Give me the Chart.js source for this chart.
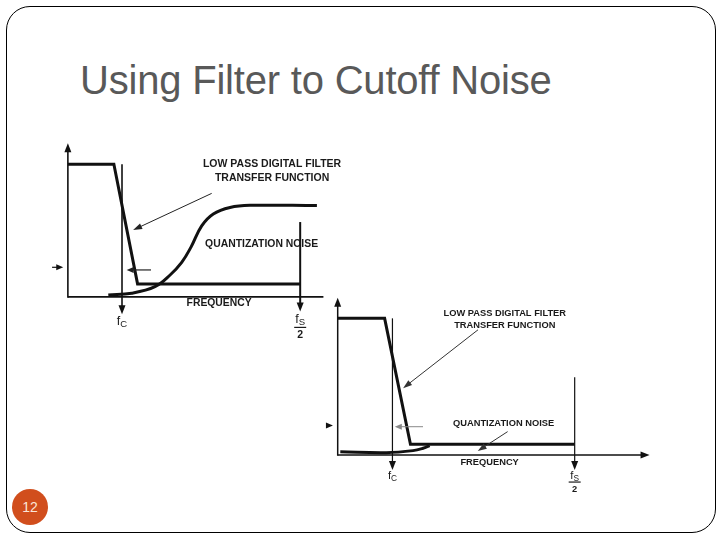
<!DOCTYPE html>
<html>
<head>
<meta charset="utf-8">
<script src="https://cdn.jsdelivr.net/npm/chart.js@4/dist/chart.umd.min.js"></script>
<style>
html,body{margin:0;padding:0;background:#fff;}
#slide{position:relative;width:720px;height:540px;overflow:hidden;background:#fff;}
#frame{position:absolute;left:6px;top:6px;width:710px;height:527px;border:1px solid #000;border-radius:24px;box-sizing:border-box;}
#title{position:absolute;left:80px;top:60px;font:40px "Liberation Sans",Arial,sans-serif;line-height:40px;color:#595959;white-space:nowrap;letter-spacing:-0.2px;}
#pg{position:absolute;left:12px;top:489px;width:36px;height:36px;border-radius:50%;background:#D14E1D;color:#FBE6D8;font:14px "Liberation Sans",Arial,sans-serif;display:flex;align-items:center;justify-content:center;}
.box{position:absolute;}
.box canvas{display:block;}
</style>
</head>
<body>
<div id="slide">
  <div id="frame"></div>
  <div id="title">Using Filter to Cutoff Noise</div>
  <div class="box" id="d1"></div>
  <div class="box" id="d2"></div>
  <div id="pg">12</div>
</div>
<script>
// ---------- DATA (x: frequency, fs/2 = 10 ; y: magnitude, passband = 10) ----------
// Diagram 1 (upper)
const filter1X = [0, 1.98, 3.0, 10];
const filter1Y = [10, 10, 0.98, 0.98];
const noise1X = [1.74, 2.75, 3.75, 4.40, 4.90, 5.30, 5.76, 6.26, 6.98, 7.84, 10.72];
const noise1Y = [0.15, 0.28, 0.77, 1.65, 2.60, 3.75, 5.35, 6.25, 6.74, 6.90, 6.88];
const fc1 = 2.33;
const fsHalf1 = 10;
// Diagram 2 (lower)
const filter2X = [0, 1.98, 3.07, 10];
const filter2Y = [10, 10, 0.78, 0.78];
const noise2X = [0.11, 2.05, 3.18, 3.60, 3.88];
const noise2Y = [0.24, 0.17, 0.32, 0.49, 0.68];
const fc2 = 2.31;
const fsHalf2 = 10;
// Text labels
const labelFilter1 = 'LOW PASS DIGITAL FILTER';
const labelFilter2 = 'TRANSFER FUNCTION';
const labelNoise = 'QUANTIZATION NOISE';
const labelFreq = 'FREQUENCY';
const labelFc = ['f', 'C'];
const labelFs = ['f', 'S', '2'];

// ---------- LAYOUT ----------
const layout1 = {originX:68, originY:297, ux:23.2, uy:13.3, xMin:-1.2, xMax:11.8, yMin:-3.4, yMax:12.2};
const layout2 = {originX:338, originY:455, ux:23.7, uy:13.65, xMin:-1.0, xMax:13.6, yMin:-3.0, yMax:12.0};

const ann1 = {
  fs:10.5, color:'#111', filterW:3, noiseW:3, axisW:1.6,
  yTop:11.58, xEnd:11.0, xArrow:false,
  fc:fc1, fcTop:10, fcTip:-1.3, fcW:1.6,
  fsX:fsHalf1, fsTop:5.64, fsTip:-1.1, fsW:2,
  texts:[
    {t:labelFilter1, x:8.79, y:10.0, w:140},
    {t:labelFilter2, x:8.79, y:8.98, w:116},
    {t:labelNoise, x:8.34, y:3.98, w:113},
    {t:labelFreq, x:6.51, y:-0.49, w:65}
  ],
  fcLabel:{x:fc1, y:-1.85}, fsLabel:{x:fsHalf1, y:-1.7, bar:-2.3, two:-2.9},
  pointers:[{x1:6.19, y1:7.8, x2:2.81, y2:5.04, w:1, c:'#222'}],
  small:[{x1:-0.68, x2:-0.2, y:2.23, w:1.2, c:'#111'}, {x1:3.58, x2:2.53, y:2.03, w:1.2, c:'#222'}]
};
const ann2 = {
  fs:9.3, color:'#111', filterW:3, noiseW:3, axisW:1.5,
  yTop:11.5, xEnd:13.16, xArrow:true,
  fc:fc2, fcTop:10, fcTip:-1.1, fcW:1.2,
  fsX:fsHalf2, fsTop:5.69, fsTip:-1.1, fsW:1.2,
  texts:[
    {t:labelFilter1, x:7.05, y:10.38, w:123},
    {t:labelFilter2, x:7.05, y:9.47, w:103},
    {t:labelNoise, x:7.0, y:2.32, w:102},
    {t:labelFreq, x:6.41, y:-0.56, w:59}
  ],
  fcLabel:{x:fc2, y:-1.54}, fsLabel:{x:fsHalf2, y:-1.5, bar:-1.98, two:-2.5},
  pointers:[{x1:5.92, y1:9.16, x2:2.76, y2:4.89, w:1, c:'#333'}, {x1:7.17, y1:1.71, x2:5.91, y2:0.29, w:1, c:'#333'}],
  small:[{x1:-0.48, x2:-0.2, y:2.16, w:1.2, c:'#111'}, {x1:3.6, x2:2.41, y:2.07, w:1, c:'#888'}]
};

function head(ctx, x1, y1, x2, y2, len, wid, color){
  const a = Math.atan2(y2-y1, x2-x1);
  ctx.save();
  ctx.translate(x2, y2); ctx.rotate(a);
  ctx.beginPath(); ctx.moveTo(0,0); ctx.lineTo(-len, wid/2); ctx.lineTo(-len, -wid/2); ctx.closePath();
  ctx.fillStyle = color; ctx.fill();
  ctx.restore();
}
function arrow(ctx, x1, y1, x2, y2, w, color, len, wid, withHead){
  const d = Math.hypot(x2-x1, y2-y1);
  const ex = withHead ? x2 - (x2-x1)/d*(len*0.8) : x2;
  const ey = withHead ? y2 - (y2-y1)/d*(len*0.8) : y2;
  ctx.save();
  ctx.strokeStyle = color; ctx.lineWidth = w;
  ctx.beginPath(); ctx.moveTo(x1, y1); ctx.lineTo(ex, ey); ctx.stroke();
  ctx.restore();
  if (withHead) head(ctx, x1, y1, x2, y2, len, wid, color);
}

function annoPlugin(A){
  return {
    id:'anno',
    beforeDatasetsDraw(chart){
      const ctx = chart.ctx, X = v=>chart.scales.x.getPixelForValue(v), Y = v=>chart.scales.y.getPixelForValue(v);
      arrow(ctx, X(0), Y(0)+A.axisW/2, X(0), Y(A.yTop), A.axisW, A.color, 9, 7, true);
      arrow(ctx, X(0), Y(0), X(A.xEnd), Y(0), A.axisW, A.color, 9, 7, A.xArrow);
      arrow(ctx, X(A.fc), Y(A.fcTop), X(A.fc), Y(A.fcTip), A.fcW, A.color, 9, 7, true);
      arrow(ctx, X(A.fsX), Y(A.fsTop), X(A.fsX), Y(A.fsTip), A.fsW, A.color, 9, 7, true);
    },
    afterDatasetsDraw(chart){
      const ctx = chart.ctx, X = v=>chart.scales.x.getPixelForValue(v), Y = v=>chart.scales.y.getPixelForValue(v);
      ctx.save();
      A.pointers.forEach(p=>arrow(ctx, X(p.x1), Y(p.y1), X(p.x2), Y(p.y2), p.w, p.c, 9, 6, true));
      A.small.forEach(p=>arrow(ctx, X(p.x1), Y(p.y), X(p.x2), Y(p.y), p.w, p.c, 7, 6, true));
      ctx.fillStyle = '#1a1a1a';
      ctx.textAlign = 'center'; ctx.textBaseline = 'middle';
      ctx.font = `bold ${A.fs}px "Liberation Sans", Arial, sans-serif`;
      A.texts.forEach(t=>ctx.fillText(t.t, X(t.x), Y(t.y), t.w));
      const big = `${A.fs+2}px "Liberation Sans", Arial, sans-serif`;
      const sm = `${A.fs-1}px "Liberation Sans", Arial, sans-serif`;
      function sub(main, s, cx, cy){
        ctx.font = big; const w1 = ctx.measureText(main).width;
        ctx.font = sm; const w2 = ctx.measureText(s).width;
        const x0 = cx - (w1+w2)/2;
        ctx.textAlign = 'left';
        ctx.font = big; ctx.fillText(main, x0, cy);
        ctx.font = sm; ctx.fillText(s, x0 + w1, cy + 3);
        ctx.textAlign = 'center';
      }
      sub(labelFc[0], labelFc[1], X(A.fcLabel.x), Y(A.fcLabel.y));
      sub(labelFs[0], labelFs[1], X(A.fsLabel.x), Y(A.fsLabel.y));
      ctx.strokeStyle = '#1a1a1a'; ctx.lineWidth = 1.2;
      ctx.beginPath(); ctx.moveTo(X(A.fsLabel.x)-6, Y(A.fsLabel.bar)); ctx.lineTo(X(A.fsLabel.x)+6, Y(A.fsLabel.bar)); ctx.stroke();
      ctx.font = `bold ${A.fs}px "Liberation Sans", Arial, sans-serif`;
      ctx.fillText(labelFs[2], X(A.fsLabel.x), Y(A.fsLabel.two));
      ctx.restore();
    }
  };
}

function makeDiagram(id, L, fx, fy, nx, ny, A){
  const box = document.getElementById(id);
  const left = Math.round(L.originX + L.xMin*L.ux);
  const top = Math.round(L.originY - L.yMax*L.uy);
  const width = Math.round((L.xMax - L.xMin)*L.ux);
  const height = Math.round((L.yMax - L.yMin)*L.uy);
  box.style.left = left+'px'; box.style.top = top+'px';
  box.style.width = width+'px'; box.style.height = height+'px';
  const cv = document.createElement('canvas');
  cv.width = width; cv.height = height;
  cv.style.width = width+'px'; cv.style.height = height+'px';
  box.appendChild(cv);
  return new Chart(cv, {
    type:'scatter',
    data:{datasets:[
      {label:'filter', data:fx.map((x,i)=>({x, y:fy[i]})), showLine:true, borderColor:A.color, borderWidth:A.filterW, pointRadius:0, clip:false, borderJoinStyle:'miter'},
      {label:'noise', data:nx.map((x,i)=>({x, y:ny[i]})), showLine:true, borderColor:A.color, borderWidth:A.noiseW, pointRadius:0, clip:false, tension:0.4}
    ]},
    options:{
      responsive:false, animation:false, events:[],
      layout:{padding:0},
      scales:{
        x:{type:'linear', display:false, min:L.xMin, max:L.xMax},
        y:{type:'linear', display:false, min:L.yMin, max:L.yMax}
      },
      plugins:{legend:{display:false}, tooltip:{enabled:false}, title:{display:false}}
    },
    plugins:[annoPlugin(A)]
  });
}

makeDiagram('d1', layout1, filter1X, filter1Y, noise1X, noise1Y, ann1);
makeDiagram('d2', layout2, filter2X, filter2Y, noise2X, noise2Y, ann2);
</script>
</body>
</html>
